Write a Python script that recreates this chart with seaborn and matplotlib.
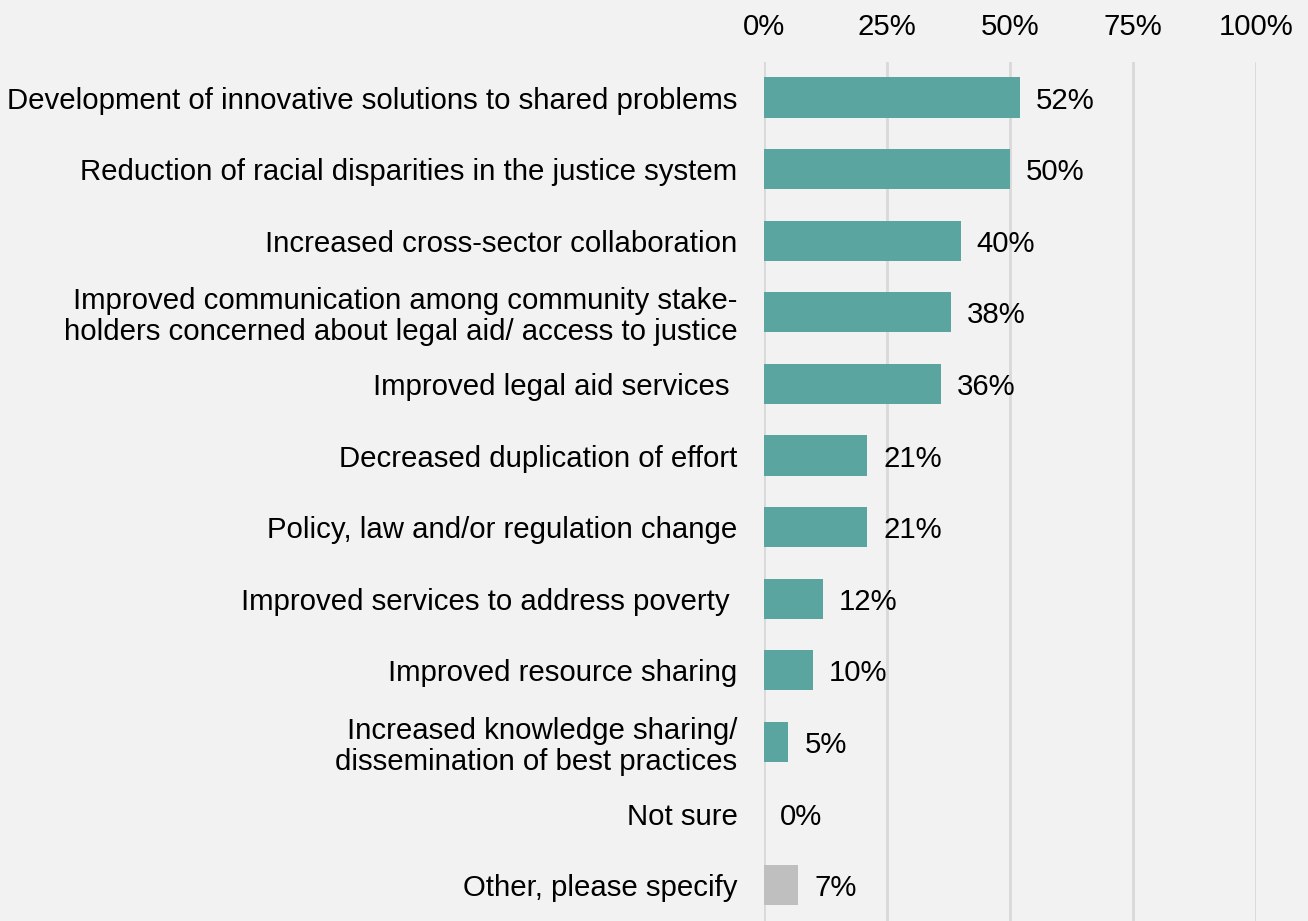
import matplotlib
matplotlib.use("Agg")
import matplotlib.pyplot as plt
import seaborn as sns
import pandas as pd

categories = [
    "Development of innovative solutions to shared problems",
    "Reduction of racial disparities in the justice system",
    "Increased cross-sector collaboration",
    "Improved communication among community stake-\nholders concerned about legal aid/ access to justice",
    "Improved legal aid services ",
    "Decreased duplication of effort",
    "Policy, law and/or regulation change",
    "Improved services to address poverty ",
    "Improved resource sharing",
    "Increased knowledge sharing/\ndissemination of best practices",
    "Not sure",
    "Other, please specify",
]
values = [52, 50, 40, 38, 36, 21, 21, 12, 10, 5, 0, 7]
groups = ["main"] * 11 + ["other"]
x_ticks = [0, 25, 50, 75, 100]
x_tick_labels = ["0%", "25%", "50%", "75%", "100%"]

df = pd.DataFrame({"category": categories, "value": values, "group": groups})

sns.set_theme(style="white")
plt.rcParams["font.family"] = ["Liberation Sans", "DejaVu Sans"]

bg = "#F2F2F2"
fs = 21.2
fig = plt.figure(figsize=(13.08, 9.21), dpi=100, facecolor=bg)
ax = fig.add_axes([0.584, 0.0, 0.376, 0.933])
ax.set_facecolor(bg)

sns.barplot(
    data=df, y="category", x="value", hue="group",
    palette={"main": "#5BA5A0", "other": "#BFBFBF"},
    orient="h", width=0.56, dodge=False, legend=False, ax=ax,
    saturation=1, linewidth=0, edgecolor="none",
)

ax.set_xlim(0, 100)
ax.set_ylim(len(categories) - 0.5, -0.5)
ax.set_xticks(x_ticks)
ax.set_xticklabels(x_tick_labels)
ax.xaxis.tick_top()
ax.tick_params(axis="x", length=0, pad=15, labelsize=fs, colors="black")
ax.tick_params(axis="y", length=0, pad=19, labelsize=fs, colors="black")
for lab in ax.get_yticklabels():
    lab.set_horizontalalignment("right")
    lab.set_multialignment("right")
    lab.set_linespacing(1.12)
ax.set_xlabel("")
ax.set_ylabel("")
ax.grid(axis="x", color="#D9D9D9", linewidth=2)
ax.set_axisbelow(True)
for s in ax.spines.values():
    s.set_visible(False)

for i, v in enumerate(values):
    ax.annotate(f"{v}%", xy=(v, i), xytext=(16, -3), textcoords="offset pixels",
                va="center", ha="left", fontsize=fs, color="black")

fig.savefig("out.png", dpi=100, facecolor=bg)
